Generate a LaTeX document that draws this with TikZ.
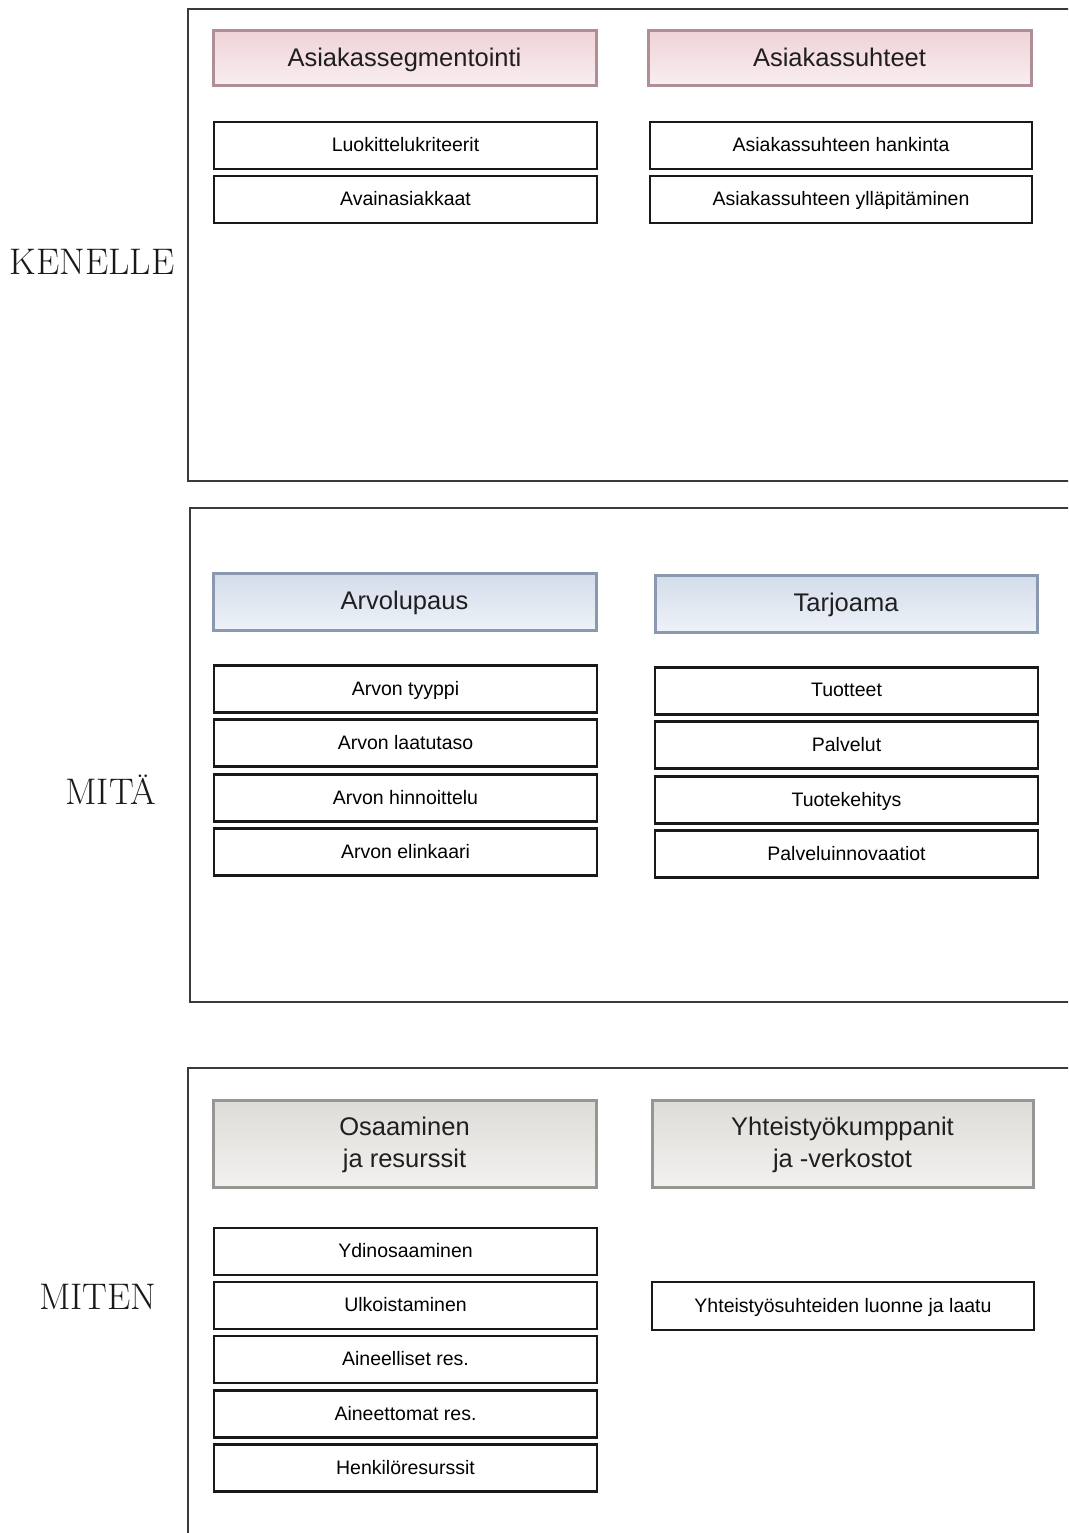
\documentclass[tikz,border=0pt]{standalone}
\usepackage{fontspec}
\newfontfamily\boxfont{Liberation Sans}
\definecolor{frameline}{HTML}{3A3A3A}
\definecolor{pinkEdge}{HTML}{B08E95}
\definecolor{pinkTop}{HTML}{EFD3D8}
\definecolor{pinkBot}{HTML}{F9EEF0}
\definecolor{blueEdge}{HTML}{8A99B0}
\definecolor{blueTop}{HTML}{D3DCEA}
\definecolor{blueBot}{HTML}{EEF2F8}
\definecolor{grayEdge}{HTML}{989692}
\definecolor{grayTop}{HTML}{DEDCD8}
\definecolor{grayBot}{HTML}{F2F1EF}
\tikzset{
  panel/.style={draw=frameline, line width=1.5pt},
  sidelabel/.style={font=\fontsize{37}{42}\selectfont, text=black!90},
  header/.style={rectangle, line width=3pt, minimum width=383pt, align=center,
    inner sep=0pt, text=black!88, text depth=0.2em,
    font=\boxfont\fontsize{25.5}{32}\selectfont},
  pinkhead/.style={header, draw=pinkEdge, top color=pinkTop, bottom color=pinkBot},
  bluehead/.style={header, draw=blueEdge, top color=blueTop, bottom color=blueBot},
  grayhead/.style={header, draw=grayEdge, top color=grayTop, bottom color=grayBot},
  item/.style={rectangle, draw=black!90, line width=2.6pt, fill=white,
    minimum width=383pt, minimum height=47pt, inner sep=0pt, text=black,
    text depth=0.15em, font=\boxfont\fontsize{19.5}{22}\selectfont}
}
\begin{document}
\begin{tikzpicture}[x=1pt, y=-1pt]
\useasboundingbox (0,0) rectangle (1068,1533);
\clip (0,0) rectangle (1068,1533);
\fill[white] (0,0) rectangle (1068,1533);

% three panels, open towards the right edge
\draw[panel] (1080,9) -- (188,9) -- (188,481) -- (1080,481);
\draw[panel] (1080,508) -- (190,508) -- (190,1002) -- (1080,1002);
\draw[panel] (1080,1068) -- (188,1068) -- (188,1545);

% row labels
\node[sidelabel] (kenelle) at (92,262) {KENELLE};
\node[sidelabel] (mita) at (111,790) {MITÄ};
\node[sidelabel] (miten) at (98,1297) {MITEN};

% KENELLE
\node[pinkhead, minimum height=55pt] (seg) at (404.5,58.5) {Asiakassegmentointi};
\node[pinkhead, minimum height=55pt] (suh) at (839.5,58.5) {Asiakassuhteet};
\node[item] (seg1) at (405.5,145.5) {Luokittelukriteerit};
\node[item] (seg2) at (405.5,199.5) {Avainasiakkaat};
\node[item, minimum width=382pt] (suh1) at (841,145.5) {Asiakassuhteen hankinta};
\node[item, minimum width=382pt] (suh2) at (841,199.5) {Asiakassuhteen ylläpitäminen};

% MITÄ
\node[bluehead, minimum height=57pt] (arvo) at (404.5,601.5) {Arvolupaus};
\node[bluehead, minimum height=57pt, minimum width=382pt] (tarj) at (846,603.5) {Tarjoama};
\node[item] (arvo1) at (405.5,689) {Arvon tyyppi};
\node[item] (arvo2) at (405.5,743) {Arvon laatutaso};
\node[item] (arvo3) at (405.5,798) {Arvon hinnoittelu};
\node[item] (arvo4) at (405.5,852) {Arvon elinkaari};
\node[item] (tarj1) at (846.5,691) {Tuotteet};
\node[item] (tarj2) at (846.5,745) {Palvelut};
\node[item] (tarj3) at (846.5,800) {Tuotekehitys};
\node[item] (tarj4) at (846.5,854) {Palveluinnovaatiot};

% MITEN
\node[grayhead, minimum height=87pt] (osa) at (404.5,1143.5) {Osaaminen\\ja resurssit};
\node[grayhead, minimum height=87pt, minimum width=381pt] (yht) at (842.5,1143.5) {Yhteistyökumppanit\\ja -verkostot};
\node[item] (osa1) at (405.5,1251.5) {Ydinosaaminen};
\node[item] (osa2) at (405.5,1305.5) {Ulkoistaminen};
\node[item] (osa3) at (405.5,1359.5) {Aineelliset res.};
\node[item] (osa4) at (405.5,1414) {Aineettomat res.};
\node[item] (osa5) at (405.5,1468) {Henkilöresurssit};
\node[item, minimum width=382pt, minimum height=48pt] (yht1) at (843,1306) {Yhteistyösuhteiden luonne ja laatu};
\end{tikzpicture}
\end{document}
